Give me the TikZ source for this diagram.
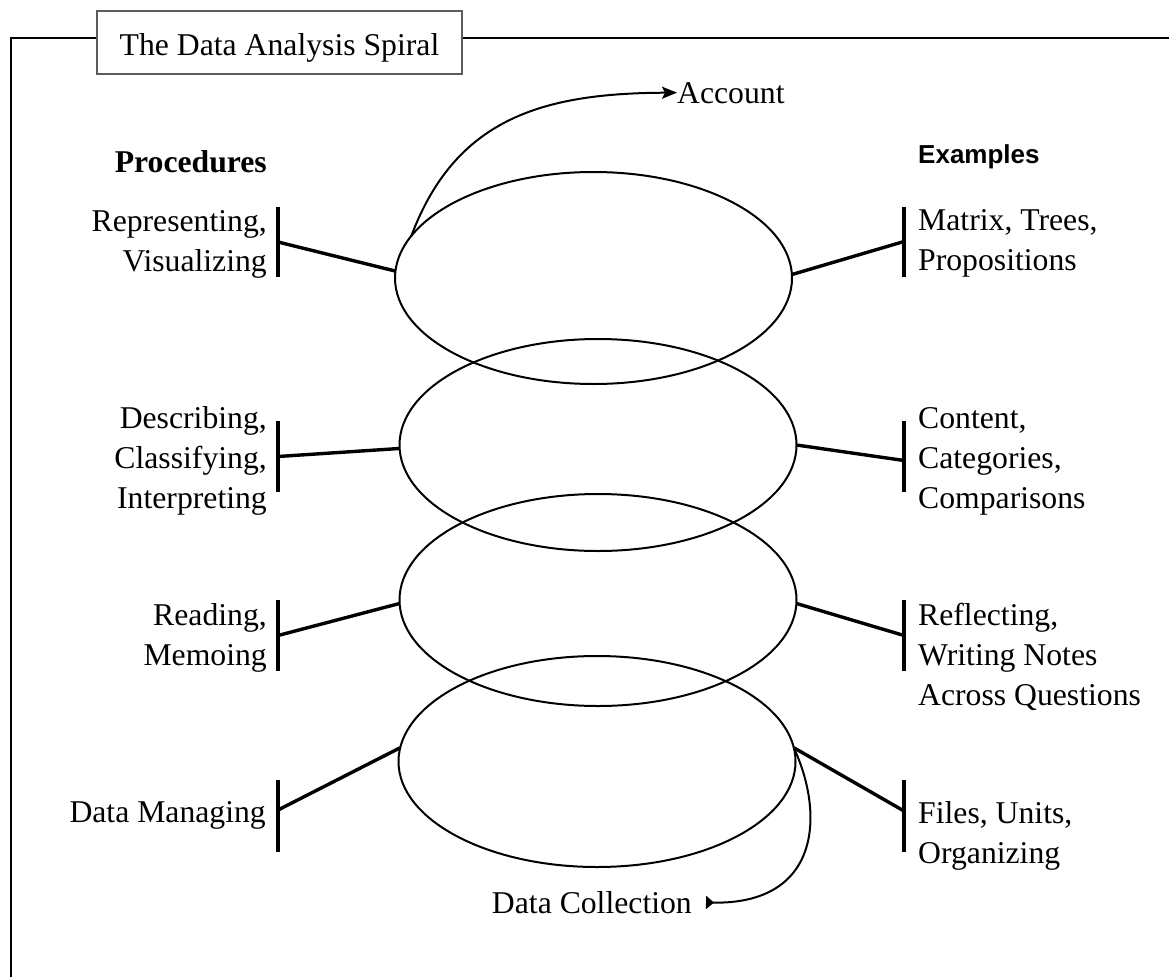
\documentclass[tikz,border=0pt]{standalone}
\usepackage{fontspec}
\setmainfont{Liberation Serif}
\newfontfamily\exfont{Liberation Sans}
\usetikzlibrary{shapes.geometric,arrows.meta}
\definecolor{boxgrey}{RGB}{86,92,100}
\tikzset{
  lbl/.style={inner sep=0pt, font=\fontsize{31.7}{40}\selectfont},
  loop/.style={ellipse, draw, line width=2pt, minimum width=397pt,
    minimum height=212pt, inner sep=0pt, outer sep=0pt},
  bar/.style={rectangle, fill=black, minimum width=4pt, minimum height=71pt,
    inner sep=0pt, outer sep=0pt},
  link/.style={line width=3.4pt},
  frame/.style={line width=2.6pt},
  turn/.style={line width=2pt},
}
\newcommand{\rcol}[1]{\begin{tabular}[t]{@{}r@{}}#1\end{tabular}}
\newcommand{\lcol}[1]{\begin{tabular}[t]{@{}l@{}}#1\end{tabular}}
\begin{document}
\begin{tikzpicture}[x=1pt,y=-1pt]
\useasboundingbox (0,0) rectangle (1169,977);

% title tab and surrounding frame
\node[draw=boxgrey, line width=2.6pt, minimum width=365pt, minimum height=63pt,
  inner sep=0pt, text height=25pt, text depth=0pt,
  font=\fontsize{31.7}{40}\selectfont] (tb) at (279.5,42.5) {The Data Analysis Spiral};
\coordinate (fTL) at (11,38);
\coordinate (fBL) at (11,977);
\coordinate (fTR) at (1169,38);
\draw[frame] (fBL) -- (fTL) -- (fTL -| tb.west);
\draw[frame] (fTL -| tb.east) -- (fTR);

% column headings
\node[lbl, anchor=base east, font=\fontsize{31.7}{40}\selectfont\bfseries] (proc) at (267,172) {Procedures};
\node[lbl, anchor=base west, font=\fontsize{26}{32}\selectfont\exfont\bfseries] (exmp) at (918,163) {Examples};

% the four loops of the spiral
\node[loop] (e1) at (593.5,278) {};
\node[loop] (e2) at (598,445) {};
\node[loop] (e3) at (598,600) {};
\node[loop, minimum height=211pt] (e4) at (597,761.5) {};

% bars on the left
\node[bar, minimum height=70pt] (lb1) at (278,242) {};
\node[bar] (lb2) at (278,456.5) {};
\node[bar] (lb3) at (278,635.5) {};
\node[bar, minimum height=72pt] (lb4) at (278,816) {};
% bars on the right
\node[bar, minimum height=70pt] (rb1) at (904,241.5) {};
\node[bar] (rb2) at (904,456.5) {};
\node[bar] (rb3) at (904,635.5) {};
\node[bar, minimum height=72pt] (rb4) at (904,816) {};

% procedure labels
\node[lbl, anchor=base east] (p1) at (267,231) {\rcol{Representing,\\Visualizing}};
\node[lbl, anchor=base east] (p2) at (267,428) {\rcol{Describing,\\Classifying,\\Interpreting}};
\node[lbl, anchor=base east] (p3) at (267,625) {\rcol{Reading,\\Memoing}};
\node[lbl, anchor=base east] (p4) at (266,822) {Data Managing};

% example labels
\node[lbl, anchor=base west] (x1) at (918,230) {\lcol{Matrix, Trees,\\Propositions}};
\node[lbl, anchor=base west] (x2) at (918,428) {\lcol{Content,\\Categories,\\Comparisons}};
\node[lbl, anchor=base west] (x3) at (918,625) {\lcol{Reflecting,\\Writing Notes\\Across Questions}};
\node[lbl, anchor=base west] (x4) at (918,823) {\lcol{Files, Units,\\Organizing}};

% links from the bars to the loops
\draw[link] (lb1.center) -- (e1.178.8);
\draw[link] (lb2.center) -- (e2.181);
\draw[link] (lb3.center) -- (e3.181.5);
\draw[link] ([yshift=6pt]lb4.center) -- (e4.176.5);
\draw[link] (e1.1.5) -- (rb1.center);
\draw[link] (e2.-0.6) -- ([yshift=-4pt]rb2.center);
\draw[link] (e3.-1) -- (rb3.center);
\draw[link] (e4.4) -- ([yshift=5pt]rb4.center);

% entry and exit of the spiral
\node[lbl, anchor=base west] (acc) at (677,103) {Account};
\node[lbl, anchor=base east] (dc) at (692,913) {Data Collection};
\draw[turn, -{Stealth[length=15pt, width=12pt, inset=3pt]}]
  (e1.167) .. controls (455,120) and (540,93) .. (acc.west);
\draw[turn, -{Triangle[reversed, length=8pt, width=13pt]}, shorten >=14pt]
  (e4.4) .. controls (825,815) and (820,905) .. (dc.east);
\end{tikzpicture}
\end{document}
